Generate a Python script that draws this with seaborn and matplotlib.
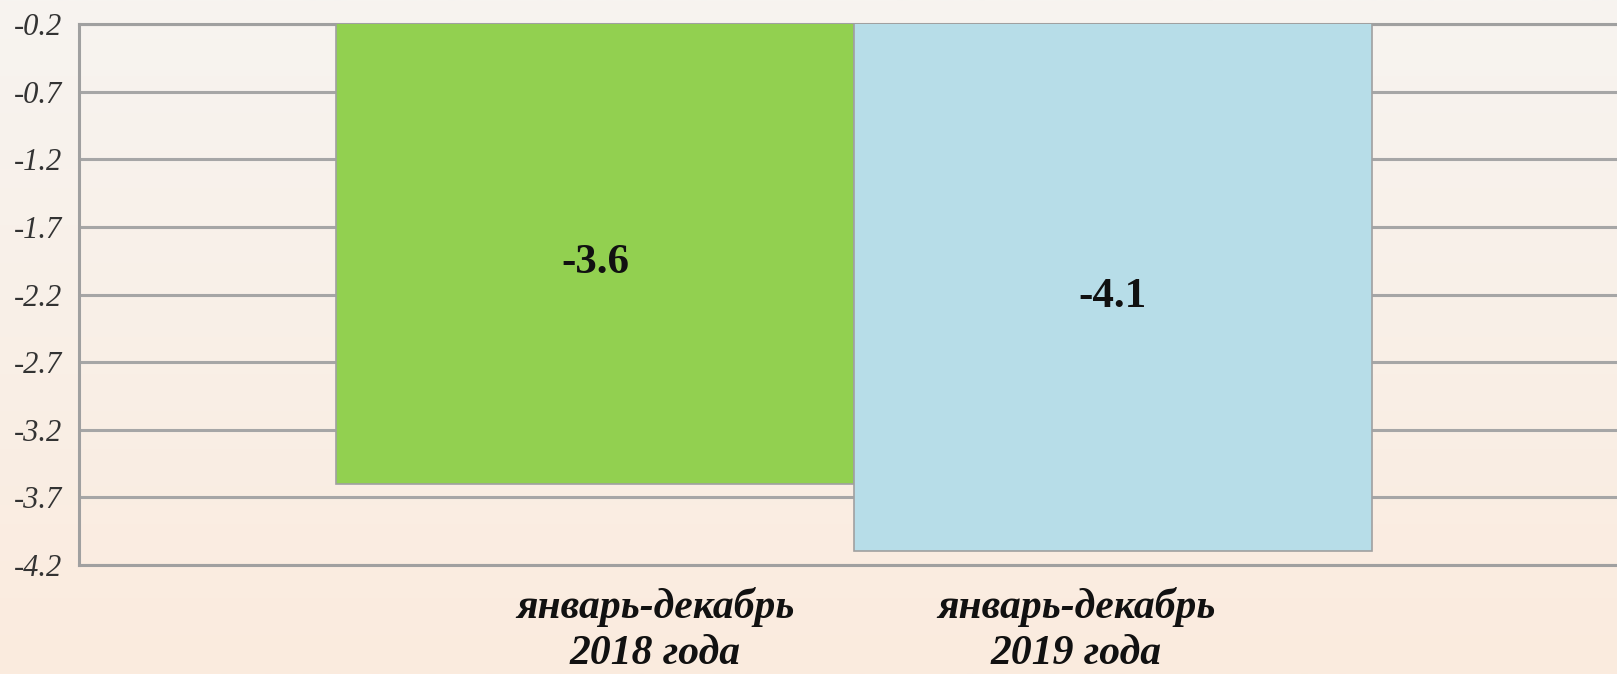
import numpy as np
import matplotlib
matplotlib.use("Agg")
import matplotlib.pyplot as plt
import seaborn as sns

# данные
periods = ["январь-декабрь\n2018 года", "январь-декабрь\n2019 года"]
values = [-3.6, -4.1]
bar_colors = ["#92d050", "#b7dde8"]
y_ticks = [-0.2, -0.7, -1.2, -1.7, -2.2, -2.7, -3.2, -3.7, -4.2]

sns.set_style("white")
plt.rcParams["font.family"] = ["Liberation Serif", "DejaVu Serif"]

fig = plt.figure(figsize=(16.17, 6.74), dpi=100)

# фон с градиентом
bg = fig.add_axes([0, 0, 1, 1], zorder=-10)
grad = np.linspace(0, 1, 256)[:, None]
top_c = np.array([247, 244, 240]) / 255
bot_c = np.array([251, 235, 222]) / 255
img = top_c[None, None, :] * (1 - grad[..., None]) + bot_c[None, None, :] * grad[..., None]
bg.imshow(img, aspect="auto", extent=[0, 1, 0, 1])
bg.axis("off")

ax = fig.add_axes([0.0489, 0.1617, 0.9511, 0.8027])
ax.patch.set_alpha(0)

sns.barplot(x=periods, y=values, hue=periods, palette=bar_colors, width=1.0,
            saturation=1, edgecolor="#a0a0a0", linewidth=1.2, legend=False,
            ax=ax, zorder=3)

ax.set_ylim(y_ticks[-1], y_ticks[0])
ax.set_xlim(-0.996, 1.973)
ax.set_yticks(y_ticks)
ax.set_yticklabels([f"{v:.1f}" for v in y_ticks], fontstyle="italic",
                   fontsize=22, color="#333333")
ax.yaxis.grid(True, color="#a6a6a6", linewidth=2.2)
ax.set_axisbelow(True)
ax.tick_params(axis="y", length=0, pad=12)
ax.set_xticks([])
ax.set_xlabel("")
ax.set_ylabel("")

for side in ["left", "top", "bottom"]:
    ax.spines[side].set_visible(True)
    ax.spines[side].set_color("#a0a0a0")
    ax.spines[side].set_linewidth(2.2)
ax.spines["right"].set_visible(False)

# подписи значений
top = y_ticks[0]
for i, v in enumerate(values):
    ax.text(i, (top + v) / 2 - 0.07, f"{v:.1f}", ha="center", va="center",
            fontsize=31, fontweight="bold", color="#111111", zorder=5)

# подписи категорий
label_shift = [0.116, -0.071]
for i, lab in enumerate(periods):
    ax.text(i + label_shift[i], -0.04, lab, transform=ax.get_xaxis_transform(),
            ha="center", va="top", fontsize=30, fontweight="bold",
            fontstyle="italic", color="#111111", linespacing=1.3)

fig.savefig("out.png", dpi=100)
